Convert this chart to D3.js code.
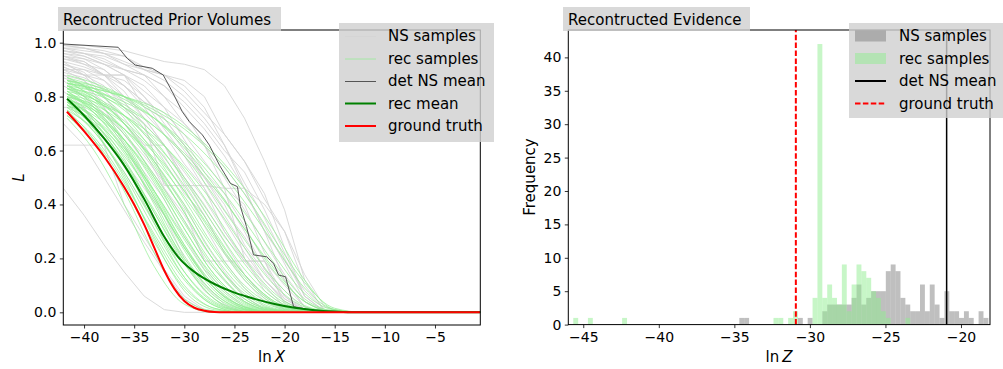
<!DOCTYPE html>
<html>
<head>
<meta charset="utf-8">
<script src="https://cdn.jsdelivr.net/npm/d3@7"></script>
<style>
  body { margin: 0; background: #fff; }
  svg { font-family: "DejaVu Sans", sans-serif; }
</style>
</head>
<body>
<svg id="chart" width="1003" height="369"></svg>
<script>
'use strict';

// ---- left panel: prior volumes, ln X on a grid, L values per sample ----
const recGrid = [-41.7, -39, -36, -33, -30, -27, -24, -21, -18, -15, -12, -0.48];
const recSamples = [
  [0.72, 0.60, 0.40, 0.17, 0.03, 0, 0, 0, 0, 0, 0, 0],
  [0.75, 0.64, 0.45, 0.22, 0.05, 0.005, 0, 0, 0, 0, 0, 0],
  [0.78, 0.68, 0.50, 0.27, 0.08, 0.01, 0, 0, 0, 0, 0, 0],
  [0.74, 0.65, 0.49, 0.28, 0.10, 0.015, 0, 0, 0, 0, 0, 0],
  [0.80, 0.71, 0.55, 0.33, 0.13, 0.025, 0, 0, 0, 0, 0, 0],
  [0.77, 0.69, 0.55, 0.35, 0.15, 0.035, 0.003, 0, 0, 0, 0, 0],
  [0.82, 0.74, 0.60, 0.40, 0.19, 0.05, 0.005, 0, 0, 0, 0, 0],
  [0.79, 0.72, 0.59, 0.41, 0.21, 0.07, 0.01, 0, 0, 0, 0, 0],
  [0.84, 0.77, 0.64, 0.45, 0.25, 0.09, 0.015, 0, 0, 0, 0, 0],
  [0.76, 0.70, 0.58, 0.42, 0.24, 0.09, 0.02, 0.001, 0, 0, 0, 0],
  [0.81, 0.75, 0.64, 0.48, 0.29, 0.12, 0.03, 0.003, 0, 0, 0, 0],
  [0.86, 0.79, 0.67, 0.50, 0.31, 0.14, 0.04, 0.005, 0, 0, 0, 0],
  [0.78, 0.73, 0.64, 0.50, 0.33, 0.16, 0.05, 0.008, 0, 0, 0, 0],
  [0.83, 0.78, 0.68, 0.54, 0.37, 0.19, 0.07, 0.012, 0, 0, 0, 0],
  [0.80, 0.76, 0.68, 0.56, 0.40, 0.23, 0.09, 0.02, 0.001, 0, 0, 0],
  [0.87, 0.82, 0.73, 0.59, 0.42, 0.24, 0.10, 0.025, 0.002, 0, 0, 0],
  [0.79, 0.75, 0.68, 0.57, 0.43, 0.27, 0.12, 0.03, 0.003, 0, 0, 0],
  [0.84, 0.80, 0.73, 0.62, 0.47, 0.30, 0.14, 0.04, 0.005, 0, 0, 0],
  [0.82, 0.79, 0.73, 0.63, 0.50, 0.34, 0.18, 0.06, 0.008, 0, 0, 0],
  [0.86, 0.83, 0.76, 0.66, 0.53, 0.37, 0.20, 0.07, 0.01, 0, 0, 0],
  [0.81, 0.78, 0.73, 0.65, 0.54, 0.40, 0.24, 0.10, 0.02, 0.001, 0, 0],
  [0.85, 0.82, 0.77, 0.69, 0.58, 0.43, 0.27, 0.12, 0.025, 0.002, 0, 0],
  [0.83, 0.81, 0.76, 0.69, 0.59, 0.46, 0.31, 0.15, 0.04, 0.003, 0, 0],
  [0.87, 0.84, 0.79, 0.72, 0.62, 0.49, 0.34, 0.18, 0.05, 0.005, 0, 0],
  [0.84, 0.82, 0.78, 0.72, 0.63, 0.51, 0.37, 0.21, 0.07, 0.008, 0, 0],
  [0.86, 0.84, 0.80, 0.74, 0.66, 0.55, 0.41, 0.25, 0.09, 0.01, 0, 0],
  [0.85, 0.83, 0.80, 0.75, 0.68, 0.58, 0.44, 0.27, 0.11, 0.015, 0, 0],
  [0.85, 0.83, 0.80, 0.76, 0.69, 0.59, 0.46, 0.30, 0.12, 0.01, 0, 0],
  [0.73, 0.63, 0.46, 0.26, 0.09, 0.015, 0, 0, 0, 0, 0, 0],
  [0.77, 0.67, 0.51, 0.31, 0.13, 0.03, 0.003, 0, 0, 0, 0, 0],
  [0.80, 0.72, 0.57, 0.37, 0.18, 0.05, 0.008, 0, 0, 0, 0, 0],
  [0.75, 0.68, 0.55, 0.38, 0.20, 0.07, 0.012, 0, 0, 0, 0, 0],
  [0.83, 0.76, 0.63, 0.44, 0.25, 0.10, 0.02, 0.001, 0, 0, 0, 0],
  [0.78, 0.72, 0.61, 0.45, 0.27, 0.11, 0.025, 0.002, 0, 0, 0, 0],
  [0.81, 0.76, 0.66, 0.51, 0.34, 0.17, 0.05, 0.008, 0, 0, 0, 0],
  [0.85, 0.80, 0.70, 0.55, 0.37, 0.19, 0.06, 0.01, 0, 0, 0, 0],
  [0.76, 0.67, 0.52, 0.33, 0.15, 0.04, 0.005, 0, 0, 0, 0, 0],
  [0.82, 0.75, 0.62, 0.43, 0.23, 0.08, 0.015, 0, 0, 0, 0, 0],
  [0.79, 0.74, 0.64, 0.49, 0.31, 0.14, 0.04, 0.006, 0, 0, 0, 0],
  [0.84, 0.79, 0.70, 0.56, 0.39, 0.21, 0.08, 0.015, 0, 0, 0, 0],
  [0.80, 0.77, 0.70, 0.59, 0.45, 0.29, 0.14, 0.04, 0.005, 0, 0, 0],
  [0.86, 0.82, 0.75, 0.64, 0.49, 0.32, 0.16, 0.05, 0.006, 0, 0, 0],
  [0.73, 0.64, 0.48, 0.29, 0.12, 0.025, 0, 0, 0, 0, 0, 0],
  [0.78, 0.70, 0.56, 0.37, 0.19, 0.06, 0.01, 0, 0, 0, 0, 0],
  [0.83, 0.79, 0.71, 0.60, 0.45, 0.28, 0.13, 0.035, 0.004, 0, 0, 0],
  [0.88, 0.85, 0.80, 0.72, 0.61, 0.47, 0.31, 0.16, 0.04, 0.004, 0, 0],
  [0.77, 0.71, 0.60, 0.45, 0.28, 0.13, 0.035, 0.004, 0, 0, 0, 0],
  [0.81, 0.74, 0.61, 0.43, 0.24, 0.09, 0.02, 0, 0, 0, 0, 0]
];

const nsGrid = [-42.07, -40, -38, -36, -34, -32, -30, -28, -26, -24, -22, -20, -18, -16, -14, -0.48];
const nsSamples = [
  [0.99, 0.98, 0.97, 0.95, 0.90, 0.86, 0.80, 0.72, 0.62, 0.48, 0.35, 0.20, 0.06, 0.005, 0, 0],
  [0.97, 0.96, 0.93, 0.90, 0.88, 0.80, 0.70, 0.62, 0.46, 0.40, 0.22, 0.12, 0.02, 0, 0, 0],
  [0.95, 0.92, 0.88, 0.88, 0.80, 0.72, 0.62, 0.50, 0.40, 0.25, 0.15, 0.05, 0.005, 0, 0, 0],
  [0.93, 0.88, 0.88, 0.88, 0.76, 0.66, 0.55, 0.46, 0.30, 0.19, 0.10, 0.02, 0, 0, 0, 0],
  [0.90, 0.88, 0.84, 0.76, 0.70, 0.62, 0.48, 0.36, 0.22, 0.12, 0.04, 0.005, 0, 0, 0, 0],
  [0.88, 0.86, 0.80, 0.72, 0.62, 0.50, 0.40, 0.26, 0.15, 0.06, 0.01, 0, 0, 0, 0, 0],
  [0.92, 0.89, 0.82, 0.76, 0.66, 0.58, 0.46, 0.32, 0.19, 0.09, 0.02, 0, 0, 0, 0, 0],
  [0.98, 0.97, 0.96, 0.92, 0.88, 0.84, 0.76, 0.68, 0.58, 0.46, 0.30, 0.19, 0.08, 0.01, 0, 0],
  [0.96, 0.95, 0.92, 0.88, 0.84, 0.76, 0.64, 0.52, 0.44, 0.32, 0.19, 0.10, 0.02, 0, 0, 0],
  [0.91, 0.88, 0.80, 0.70, 0.60, 0.46, 0.34, 0.20, 0.12, 0.04, 0.005, 0, 0, 0, 0, 0],
  [0.86, 0.80, 0.72, 0.62, 0.52, 0.42, 0.28, 0.16, 0.08, 0.02, 0, 0, 0, 0, 0, 0],
  [0.76, 0.76, 0.62, 0.52, 0.40, 0.28, 0.18, 0.08, 0.02, 0, 0, 0, 0, 0, 0, 0],
  [0.62, 0.62, 0.62, 0.40, 0.28, 0.16, 0.06, 0.01, 0, 0, 0, 0, 0, 0, 0, 0],
  [0.94, 0.92, 0.90, 0.84, 0.76, 0.72, 0.62, 0.48, 0.36, 0.24, 0.12, 0.04, 0.005, 0, 0, 0],
  [0.97, 0.95, 0.92, 0.90, 0.86, 0.80, 0.74, 0.62, 0.50, 0.38, 0.26, 0.14, 0.04, 0.002, 0, 0],
  [0.89, 0.87, 0.83, 0.78, 0.70, 0.47, 0.47, 0.47, 0.46, 0.20, 0.08, 0.02, 0, 0, 0, 0],
  [0.99, 0.99, 0.98, 0.97, 0.95, 0.93, 0.92, 0.90, 0.84, 0.72, 0.56, 0.38, 0.12, 0, 0, 0],
  [0.95, 0.93, 0.88, 0.80, 0.72, 0.62, 0.52, 0.42, 0.30, 0.20, 0.12, 0.04, 0.005, 0, 0, 0],
  [0.87, 0.84, 0.76, 0.66, 0.56, 0.46, 0.36, 0.24, 0.14, 0.06, 0.01, 0, 0, 0, 0, 0],
  [0.93, 0.91, 0.88, 0.86, 0.80, 0.70, 0.60, 0.50, 0.42, 0.30, 0.16, 0.08, 0.01, 0, 0, 0],
  [0.70, 0.62, 0.50, 0.38, 0.26, 0.15, 0.05, 0.005, 0, 0, 0, 0, 0, 0, 0, 0],
  [0.90, 0.86, 0.76, 0.62, 0.48, 0.36, 0.20, 0.10, 0.03, 0, 0, 0, 0, 0, 0, 0],
  [0.98, 0.96, 0.94, 0.90, 0.88, 0.84, 0.78, 0.70, 0.60, 0.52, 0.38, 0.22, 0.06, 0.003, 0, 0],
  [0.92, 0.90, 0.86, 0.78, 0.68, 0.56, 0.44, 0.36, 0.22, 0.14, 0.05, 0.01, 0, 0, 0, 0],
  [0.84, 0.80, 0.74, 0.66, 0.58, 0.48, 0.38, 0.19, 0.19, 0.19, 0.19, 0.03, 0, 0, 0, 0],
  [0.96, 0.94, 0.90, 0.84, 0.78, 0.68, 0.58, 0.46, 0.34, 0.22, 0.12, 0.05, 0.01, 0, 0, 0],
  [0.46, 0.36, 0.25, 0.15, 0.06, 0.01, 0, 0, 0, 0, 0, 0, 0, 0, 0, 0],
  [0.98, 0.98, 0.96, 0.95, 0.91, 0.88, 0.84, 0.76, 0.62, 0.46, 0.40, 0.30, 0.10, 0.01, 0, 0],
  [0.97, 0.96, 0.95, 0.92, 0.90, 0.88, 0.86, 0.80, 0.66, 0.56, 0.44, 0.24, 0.06, 0, 0, 0],
  [0.90, 0.90, 0.88, 0.82, 0.72, 0.62, 0.50, 0.40, 0.28, 0.19, 0.19, 0.06, 0, 0, 0, 0],
  [0.94, 0.93, 0.88, 0.84, 0.78, 0.74, 0.66, 0.56, 0.46, 0.46, 0.30, 0.12, 0.02, 0, 0, 0],
  [0.88, 0.84, 0.78, 0.70, 0.62, 0.62, 0.50, 0.38, 0.26, 0.14, 0.06, 0.01, 0, 0, 0, 0],
  [0.99, 0.98, 0.96, 0.93, 0.90, 0.88, 0.82, 0.74, 0.66, 0.56, 0.42, 0.30, 0.14, 0.02, 0, 0],
  [0.82, 0.76, 0.66, 0.56, 0.46, 0.36, 0.24, 0.14, 0.06, 0.01, 0, 0, 0, 0, 0, 0],
  [0.95, 0.94, 0.92, 0.88, 0.82, 0.76, 0.70, 0.62, 0.54, 0.44, 0.32, 0.18, 0.04, 0, 0, 0],
  [0.91, 0.88, 0.86, 0.80, 0.74, 0.66, 0.58, 0.50, 0.38, 0.28, 0.16, 0.06, 0.01, 0, 0, 0]
];

const detMeanX = [-42.07, -36.6, -35.7, -34.9, -33.2, -32.1, -31.2, -30.2, -29.5, -28.2, -27.5, -26.5, -25.4, -24.7,
  -24.4, -23.8, -23.1, -21.8, -21.1, -20.6, -19.9, -19.1, -17.8, -16, -0.48];
const detMeanL = [0.995, 0.983, 0.942, 0.917, 0.905, 0.88, 0.818, 0.744, 0.707, 0.658, 0.62, 0.546, 0.478, 0.466,
  0.392, 0.318, 0.213, 0.206, 0.182, 0.138, 0.132, 0.021, 0.012, 0.002, 0];

const recMeanX = [-41.7, -40, -38, -36, -34, -32, -30.5, -29, -27, -25, -23, -21, -19, -17, -15, -13, -0.48];
const recMeanL = [0.792, 0.73, 0.645, 0.545, 0.42, 0.28, 0.20, 0.15, 0.105, 0.073, 0.05, 0.031, 0.017, 0.008, 0.003, 0, 0];

const truthX = [-41.7, -40, -38, -36, -35, -34, -33, -32, -31, -30, -29, -28, -27, -26, -0.48];
const truthL = [0.744, 0.672, 0.578, 0.465, 0.40, 0.325, 0.24, 0.155, 0.088, 0.042, 0.017, 0.006, 0.001, 0, 0];

const lnXTicks = [-40, -35, -30, -25, -20, -15, -10, -5];
const lTicks = [0, 0.2, 0.4, 0.6, 0.8, 1.0];

// ---- right panel: evidence histogram, 85 shared bins ----
const binStart = -45.66;
const binWidth = 0.3232;
const nsCounts = [
  0, 0, 0, 0, 0, 0, 0, 0, 0, 0,
  0, 0, 0, 0, 0, 0, 0, 0, 0, 0,
  0, 0, 0, 0, 0, 0, 0, 0, 0, 0,
  0, 0, 0, 0, 1, 1, 0, 0, 0, 0,
  0, 0, 0, 0, 0, 0, 1, 0, 1, 0,
  0, 2, 3, 3, 3, 3, 3, 4, 6, 3,
  4, 5, 5, 5, 8, 9, 8, 4, 3, 2,
  2, 6, 2, 6, 3, 1, 5, 2, 2, 1,
  2, 1, 0, 2, 1
];
const recCounts = [
  1, 0, 0, 1, 0, 0, 0, 0, 0, 0,
  1, 0, 0, 0, 0, 0, 0, 0, 0, 0,
  0, 0, 0, 0, 0, 0, 0, 0, 0, 0,
  0, 0, 0, 0, 0, 0, 0, 0, 0, 0,
  0, 1, 1, 0, 1, 2, 0, 0, 0, 4,
  42, 4, 6, 4, 3, 9, 2, 6, 9, 8,
  7, 5, 4, 2, 1, 0, 0, 0, 1, 0,
  0, 0, 0, 0, 0, 0, 0, 0, 0, 0,
  0, 0, 0, 0, 0
];
const detMeanZ = -20.95;
const truthZ = -30.93;

const lnZTicks = [-45, -40, -35, -30, -25, -20];
const freqTicks = [0, 5, 10, 15, 20, 25, 30, 35, 40];

const svg = d3.select('#chart');

function drawAxes(g, x, y, xTicks, yTicks, yFormat) {
  const bottom = y.range()[0];
  const left = x.range()[0];

  const ax = g.append('g')
    .attr('transform', `translate(0,${bottom})`)
    .call(d3.axisBottom(x).tickValues(xTicks).tickSize(3.5).tickPadding(3.5).tickFormat(d3.format('d')));

  const ay = g.append('g')
    .attr('transform', `translate(${left},0)`)
    .call(d3.axisLeft(y).tickValues(yTicks).tickSize(3.5).tickPadding(3.5).tickFormat(yFormat));

  for (const a of [ax, ay]) {
    a.select('.domain').remove();
    a.selectAll('line').attr('stroke', '#000').attr('stroke-width', 0.8);
    a.selectAll('text')
      .attr('fill', '#000')
      .style('font-size', '14px')
      .style('font-family', '"DejaVu Sans", sans-serif');
  }
}

function frame(g, x, y) {
  const [x0, x1] = x.range();
  const [y1, y0] = y.range();
  g.append('rect')
    .attr('x', x0).attr('y', y0)
    .attr('width', x1 - x0).attr('height', y1 - y0)
    .attr('fill', 'none').attr('stroke', '#000').attr('stroke-width', 1);
}

function titleBox(g, x, y, w, label) {
  g.append('rect')
    .attr('x', x).attr('y', y).attr('width', w).attr('height', 24)
    .attr('fill', '#d0d0d0').attr('fill-opacity', 0.8);
  g.append('text')
    .attr('x', x + 5).attr('y', y + 17.5)
    .style('font-size', '15px')
    .text(label);
}

function legendBox(g, x, y, w, h) {
  g.append('rect')
    .attr('x', x).attr('y', y).attr('width', w).attr('height', h)
    .attr('fill', '#d0d0d0').attr('fill-opacity', 0.8);
}

// ================= left panel =================
function drawLeft() {
  const g = svg.append('g');
  const x = d3.scaleLinear().domain([-42.07, -0.48]).range([63.3, 480.3]);
  const y = d3.scaleLinear().domain([-0.047, 1.047]).range([325, 30]);

  g.append('clipPath').attr('id', 'clipL')
    .append('rect').attr('x', 63.3).attr('y', 30).attr('width', 417).attr('height', 295);

  const plot = g.append('g').attr('clip-path', 'url(#clipL)');

  const nsLine = d3.line()
    .x((d, i) => x(nsGrid[i]))
    .y(d => y(d));

  plot.append('g')
    .selectAll('path')
    .data(nsSamples)
    .join('path')
    .attr('d', nsLine)
    .attr('fill', 'none')
    .attr('stroke', '#d3d3d3')
    .attr('stroke-opacity', 0.85)
    .attr('stroke-width', 1);

  const recLine = d3.line()
    .x((d, i) => x(recGrid[i]))
    .y(d => y(d))
    .curve(d3.curveMonotoneX);

  plot.append('g')
    .selectAll('path')
    .data(recSamples)
    .join('path')
    .attr('d', recLine)
    .attr('fill', 'none')
    .attr('stroke', '#90ee90')
    .attr('stroke-opacity', 0.7)
    .attr('stroke-width', 1);

  const pairLine = xs => d3.line().x((d, i) => x(xs[i])).y(d => y(d));

  plot.append('path')
    .attr('d', pairLine(detMeanX)(detMeanL))
    .attr('fill', 'none').attr('stroke', '#555').attr('stroke-width', 1);

  plot.append('path')
    .attr('d', pairLine(recMeanX).curve(d3.curveMonotoneX)(recMeanL))
    .attr('fill', 'none').attr('stroke', '#008000').attr('stroke-width', 2);

  plot.append('path')
    .attr('d', pairLine(truthX).curve(d3.curveMonotoneX)(truthL))
    .attr('fill', 'none').attr('stroke', '#ff0000').attr('stroke-width', 2);

  drawAxes(g, x, y, lnXTicks, lTicks, d3.format('.1f'));
  frame(g, x, y);

  const xl = g.append('text')
    .attr('x', 271.5).attr('y', 362)
    .attr('text-anchor', 'middle')
    .style('font-size', '15px');
  xl.append('tspan').text('ln');
  xl.append('tspan').attr('dx', 3).style('font-style', 'italic').text('X');

  g.append('text')
    .attr('transform', 'translate(24,177.5) rotate(-90)')
    .attr('text-anchor', 'middle')
    .style('font-size', '15px')
    .style('font-style', 'italic')
    .text('L');

  titleBox(g, 58, 7, 223, 'Recontructed Prior Volumes');

  legendBox(g, 339, 23, 155, 119);
  const items = [
    { label: 'NS samples', stroke: '#d3d3d3', op: 0.85, w: 1 },
    { label: 'rec samples', stroke: '#90ee90', op: 0.7, w: 1 },
    { label: 'det NS mean', stroke: '#555', op: 1, w: 1 },
    { label: 'rec mean', stroke: '#008000', op: 1, w: 2 },
    { label: 'ground truth', stroke: '#ff0000', op: 1, w: 2 }
  ];
  const rows = g.append('g').selectAll('g').data(items).join('g')
    .attr('transform', (d, i) => `translate(0,${36 + i * 22.5})`);
  rows.append('line')
    .attr('x1', 345).attr('x2', 376)
    .attr('y1', d => (d.w === 1 ? 0.5 : 0)).attr('y2', d => (d.w === 1 ? 0.5 : 0))
    .attr('stroke', d => d.stroke).attr('stroke-opacity', d => d.op).attr('stroke-width', d => d.w);
  rows.append('text')
    .attr('x', 388).attr('dy', '0.35em')
    .style('font-size', '15px')
    .text(d => d.label);
}

// ================= right panel =================
function drawRight() {
  const g = svg.append('g');
  const x = d3.scaleLinear().domain([-45.99, -18.08]).range([568.3, 990]);
  const y = d3.scaleLinear().domain([0, 44.1]).range([324.6, 30]);

  const bins = counts => counts.map((c, i) => ({
    x0: binStart + i * binWidth,
    x1: binStart + (i + 1) * binWidth,
    n: c
  })).filter(d => d.n > 0);

  const bars = (data, fill) => g.append('g')
    .selectAll('rect')
    .data(data)
    .join('rect')
    .attr('x', d => x(d.x0))
    .attr('width', d => x(d.x1) - x(d.x0))
    .attr('y', d => y(d.n))
    .attr('height', d => y(0) - y(d.n))
    .attr('fill', fill)
    .attr('fill-opacity', 0.5);

  bars(bins(nsCounts), '#808080');
  bars(bins(recCounts), '#90ee90');

  g.append('line')
    .attr('x1', x(detMeanZ)).attr('x2', x(detMeanZ))
    .attr('y1', y.range()[0]).attr('y2', y.range()[1])
    .attr('stroke', '#000').attr('stroke-width', 1.5);

  g.append('line')
    .attr('x1', x(truthZ)).attr('x2', x(truthZ))
    .attr('y1', y.range()[0]).attr('y2', y.range()[1])
    .attr('stroke', '#ff0000').attr('stroke-width', 2)
    .attr('stroke-dasharray', '5.5,2.4');

  drawAxes(g, x, y, lnZTicks, freqTicks, d3.format('d'));
  frame(g, x, y);

  const xl = g.append('text')
    .attr('x', 779).attr('y', 362)
    .attr('text-anchor', 'middle')
    .style('font-size', '15px');
  xl.append('tspan').text('ln');
  xl.append('tspan').attr('dx', 3).style('font-style', 'italic').text('Z');

  g.append('text')
    .attr('transform', 'translate(535,177) rotate(-90)')
    .attr('text-anchor', 'middle')
    .style('font-size', '15px')
    .text('Frequency');

  titleBox(g, 563, 7, 187, 'Recontructed Evidence');

  legendBox(g, 849, 23, 160, 95);
  const items = [
    { label: 'NS samples', kind: 'patch', fill: '#808080' },
    { label: 'rec samples', kind: 'patch', fill: '#90ee90' },
    { label: 'det NS mean', kind: 'line', stroke: '#000000', dash: 'none' },
    { label: 'ground truth', kind: 'line', stroke: '#ff0000', dash: '5.5,2.4' }
  ];
  const rows = g.append('g').selectAll('g').data(items).join('g')
    .attr('transform', (d, i) => `translate(0,${36 + i * 22.5})`);
  rows.filter(d => d.kind === 'patch').append('rect')
    .attr('x', 855).attr('y', -5.5).attr('width', 31).attr('height', 11)
    .attr('fill', d => d.fill).attr('fill-opacity', 0.5);
  rows.filter(d => d.kind === 'line').append('line')
    .attr('x1', 855).attr('x2', 886)
    .style('stroke', d => d.stroke)
    .style('stroke-width', 2)
    .style('stroke-dasharray', d => d.dash);
  rows.append('text')
    .attr('x', 899).attr('dy', '0.35em')
    .style('font-size', '15px')
    .text(d => d.label);
}

drawLeft();
drawRight();
</script>
</body>
</html>
